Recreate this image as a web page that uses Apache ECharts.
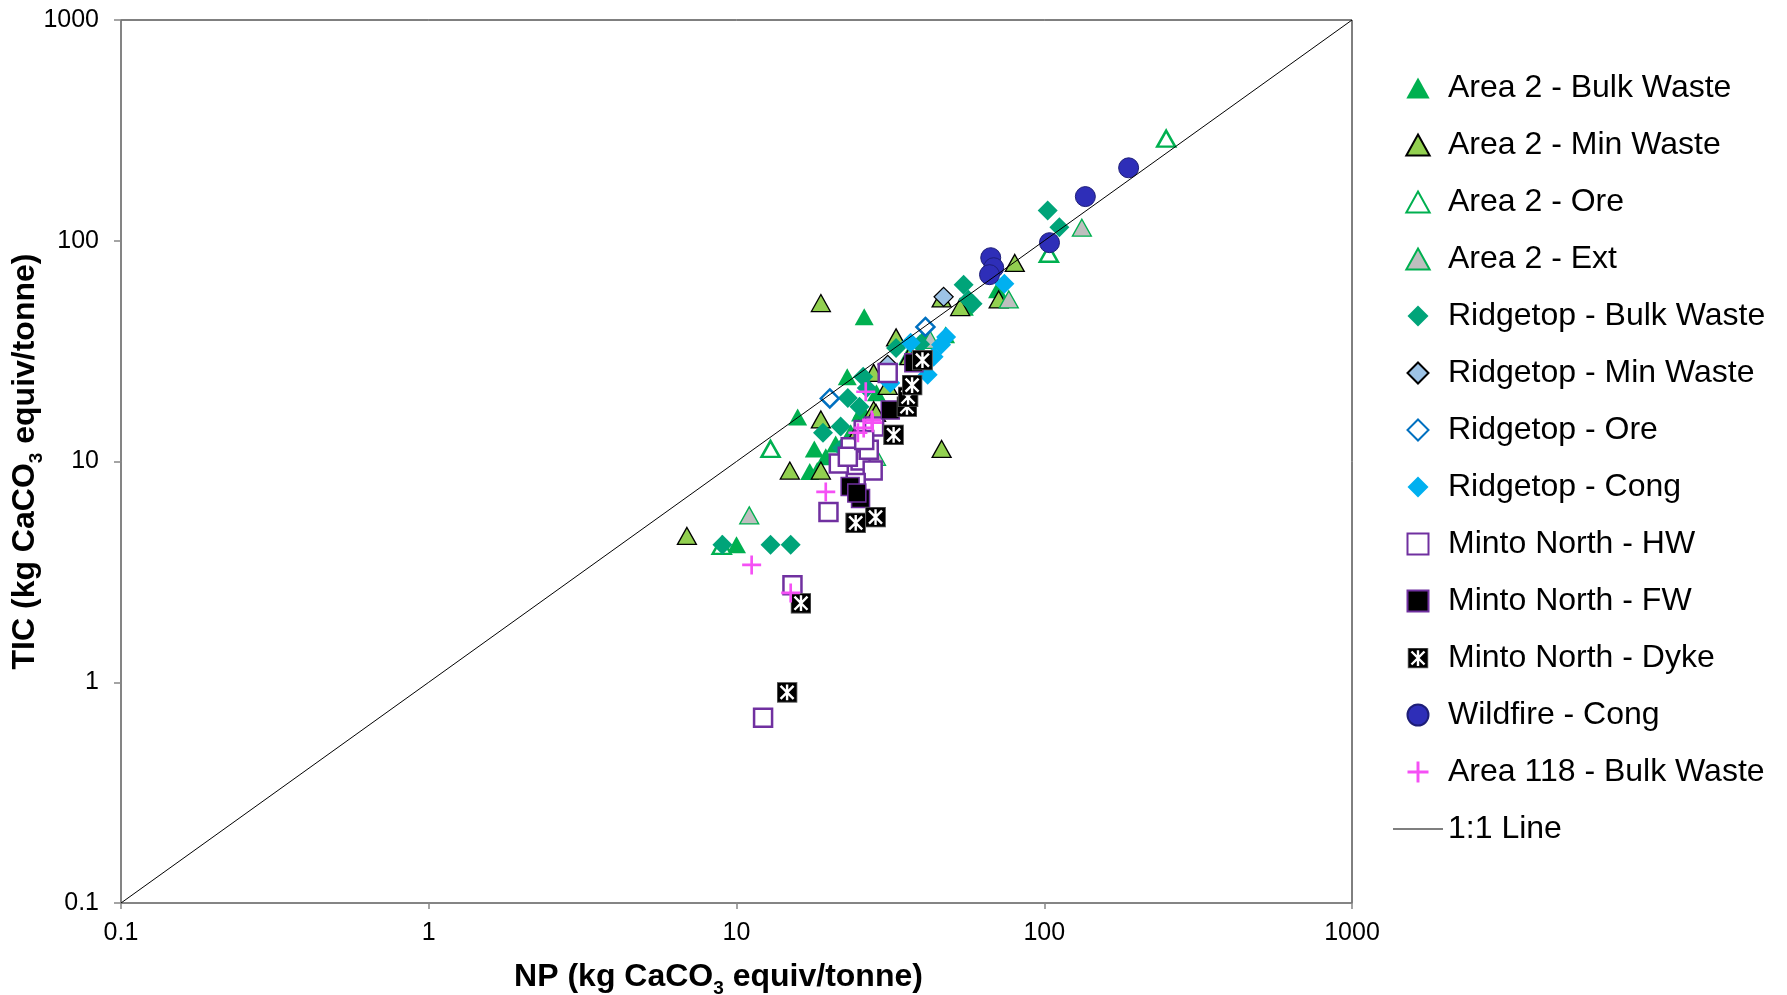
<!DOCTYPE html>
<html>
<head>
<meta charset="utf-8">
<script src="https://cdn.jsdelivr.net/npm/echarts@6/dist/echarts.min.js"></script>
<style>
  html, body { margin: 0; padding: 0; background: #fff; }
  #chart { width: 1787px; height: 995px; }
</style>
</head>
<body>
<div id="chart"></div>
<script>
// NP vs TIC, both in kg CaCO3 equiv/tonne, [NP, TIC]
const area2Bulk = [[26.0,45.3],[22.9,24.2],[15.8,15.9],[17.9,11.4],[18.3,9.1],[17.3,9.0],[10.0,4.2],[70.5,60.0],[47.8,37.5],[40.5,36.4],[25.3,16.6],[25.6,17.1],[21.0,12.0],[23.5,13.5],[28.5,20.5],[19.5,10.5],[36.0,30.0],[55.0,50.0]];
const area2Min = [[18.8,52.2],[6.9,4.6],[14.9,9.1],[18.8,9.1],[46.4,11.4],[33.0,36.5],[80.2,79.3],[71.1,54.2],[46.4,54.8],[18.8,15.5],[27.9,25.2],[27.9,17.1],[28.4,16.6],[53.3,50.1],[31.0,22.0],[25.0,14.0],[36.5,30.0]];
const area2Ore = [[249,290],[103.5,87.3],[12.9,11.4],[8.95,4.15]];
const area2Ext = [[132.5,114.6],[76.7,54.2],[11.0,5.7],[28.4,10.5],[42.6,35.6]];
const ridgeBulk = [[102.6,137],[112,115],[54.7,63.2],[56.7,54.1],[58.5,51.8],[9.0,4.2],[12.9,4.2],[15.0,4.2],[19.1,13.5],[21.8,14.4],[23.0,19.4],[25.1,17.7],[25.8,24.2],[33.0,32.7],[39.5,34.0],[22.0,11.5],[26.5,21.5]];
const ridgeMin = [[47.1,55.7],[31.0,27.4]];
const ridgeOre = [[20.1,19.3],[41.1,40.7]];
const ridgeCong = [[74.2,63.9],[48.0,36.6],[46.2,33.8],[43.7,29.8],[41.8,24.7],[36.8,34.5],[31.6,22.7],[26.3,13.9]];
const mintoHW = [[12.2,0.69],[15.2,2.75],[19.9,5.9],[31.0,25.2],[23.5,11.6],[21.5,9.8],[25.3,10.1],[26.9,11.3],[27.7,9.1],[25.9,13.9],[28.0,14.4],[24.4,8.0],[23.0,10.5],[26.0,12.5]];
const mintoFW = [[23.4,7.7],[25.3,6.8],[31.6,17.1],[37.7,28.0],[24.6,7.2]];
const mintoDyke = [[14.6,0.9],[16.2,2.28],[24.4,5.27],[28.3,5.6],[32.4,13.2],[35.8,17.7],[36.1,19.6],[37.2,22.2],[40.2,28.8]];
const wildfireCong = [[188,214],[136,158.5],[104,98],[67,83.8],[68.5,75.5],[66.4,70.2]];
const area118Bulk = [[11.2,3.4],[15.0,2.54],[19.5,7.28],[26.3,20.7],[27.7,15.0],[25.9,14.2],[27.5,15.4],[24.8,13.5]];
const oneToOne = [[0.1,0.1],[1000,1000]];

const seriesNames = [
  'Area 2 - Bulk Waste', 'Area 2 - Min Waste', 'Area 2 - Ore', 'Area 2 - Ext',
  'Ridgetop - Bulk Waste', 'Ridgetop - Min Waste', 'Ridgetop - Ore', 'Ridgetop - Cong',
  'Minto North - HW', 'Minto North - FW', 'Minto North - Dyke', 'Wildfire - Cong',
  'Area 118 - Bulk Waste', '1:1 Line'
];
const decadeLabels = ['0.1', '1', '10', '100', '1000'];

const FONT = '"Liberation Sans", Arial, sans-serif';

// marker shapes as paths so legend icons keep their proportions
const TRI = 'path://M10,0L20,18L0,18Z';
const DIAMOND = 'path://M10,0L20,10L10,20L0,10Z';
const SQUARE = 'path://M0,0H20V20H0Z';
const PLUS = 'path://M8.6,0h2.8v8.6h8.6v2.8h-8.6v8.6h-2.8v-8.6h-8.6v-2.8h8.6z';
const LINE_ICON = 'path://M0,0H50V1.2H0Z';
// black square with a white six-armed asterisk
const DYKE = 'image://data:image/svg+xml;utf8,' + encodeURIComponent(
  '<svg xmlns="http://www.w3.org/2000/svg" width="40" height="40" viewBox="0 0 20 20">' +
  '<rect x="0.5" y="0.5" width="19" height="19" fill="#000" stroke="#666" stroke-width="1"/>' +
  '<path d="M10 2.5V17.5M3.8 3.8L16.2 16.2M16.2 3.8L3.8 16.2" stroke="#fff" stroke-width="2.3" fill="none"/>' +
  '</svg>');

function scatter(name, data, symbol, size, itemStyle) {
  return {
    name, type: 'scatter', data, symbol, symbolSize: size,
    itemStyle: Object.assign({ opacity: 1 }, itemStyle),
    emphasis: { disabled: true }
  };
}

const decadeFormatter = v => decadeLabels[Math.round(Math.log10(v)) + 1] || '';

const axisNameStyle = {
  fontSize: 32, fontWeight: 'bold', color: '#000', fontFamily: FONT, lineHeight: 42,
  rich: { s: { fontSize: 19, fontWeight: 'bold', color: '#000', fontFamily: FONT, verticalAlign: 'bottom', lineHeight: 19 } }
};

const legendData = seriesNames.map(n => n === '1:1 Line' ? { name: n, icon: LINE_ICON } : { name: n });

const option = {
  animation: false,
  backgroundColor: '#fff',
  textStyle: { fontFamily: FONT },
  grid: { left: 121, top: 20, right: 435, bottom: 92, show: true, borderColor: '#000', borderWidth: 1, outerBoundsMode: 'none', containLabel: false },
  xAxis: {
    type: 'log', logBase: 10, min: 0.1, max: 1000,
    axisLine: { lineStyle: { color: '#868686', width: 1.5 } },
    axisTick: { show: true, length: 6, lineStyle: { color: '#868686', width: 1.5 } },
    minorTick: { show: false }, splitLine: { show: false },
    axisLabel: { fontSize: 25, color: '#000', fontFamily: FONT, margin: 18, formatter: decadeFormatter },
    name: 'NP (kg CaCO{s|3} equiv/tonne)', nameLocation: 'middle', nameGap: 53, nameMoveOverlap: false,
    nameTextStyle: Object.assign({ padding: [0, 36, 0, 0] }, axisNameStyle)
  },
  yAxis: {
    type: 'log', logBase: 10, min: 0.1, max: 1000,
    axisLine: { lineStyle: { color: '#868686', width: 1.5 } },
    axisTick: { show: true, length: 7, lineStyle: { color: '#868686', width: 1.5 } },
    minorTick: { show: false }, splitLine: { show: false },
    axisLabel: { fontSize: 25, color: '#000', fontFamily: FONT, margin: 22, formatter: decadeFormatter },
    name: 'TIC (kg CaCO{s|3} equiv/tonne)', nameLocation: 'middle', nameGap: 75, nameMoveOverlap: false,
    nameTextStyle: axisNameStyle
  },
  legend: {
    orient: 'vertical', left: 1393, top: 72, padding: 0,
    itemWidth: 50, itemHeight: 21, itemGap: 25,
    textStyle: { fontSize: 32, color: '#000', fontFamily: FONT, lineHeight: 32 },
    data: legendData,
    selectedMode: false
  },
  series: [
    { name: '1:1 Line', type: 'line', data: oneToOne, symbol: 'none', lineStyle: { color: '#000', width: 1 }, itemStyle: { color: '#000' }, emphasis: { disabled: true } },
    scatter(seriesNames[0], area2Bulk, TRI, [19, 17], { color: '#00B050' }),
    scatter(seriesNames[1], area2Min, TRI, [19, 17], { color: '#92D050', borderColor: '#000', borderWidth: 1.3 }),
    scatter(seriesNames[2], area2Ore, TRI, [18, 16], { color: '#fff', borderColor: '#00B050', borderWidth: 2.5 }),
    scatter(seriesNames[3], area2Ext, TRI, [19, 17], { color: '#BFBFBF', borderColor: '#00B050', borderWidth: 1.3 }),
    scatter(seriesNames[4], ridgeBulk, DIAMOND, [20, 20], { color: '#00A479' }),
    scatter(seriesNames[5], ridgeMin, DIAMOND, [19, 19], { color: '#9DC3E6', borderColor: '#000', borderWidth: 1.3 }),
    scatter(seriesNames[6], ridgeOre, DIAMOND, [18, 18], { color: '#fff', borderColor: '#0070C0', borderWidth: 2.5 }),
    scatter(seriesNames[7], ridgeCong, DIAMOND, [20, 20], { color: '#00B0F0' }),
    scatter(seriesNames[8], mintoHW, SQUARE, [18, 18], { color: '#fff', borderColor: '#7030A0', borderWidth: 2.5 }),
    scatter(seriesNames[9], mintoFW, SQUARE, [18, 18], { color: '#000', borderColor: '#7030A0', borderWidth: 1.5 }),
    scatter(seriesNames[10], mintoDyke, DYKE, [21, 21], { color: '#000' }),
    scatter(seriesNames[11], wildfireCong, 'circle', [20, 20], { color: '#2E2EB8', borderColor: '#1E1E78', borderWidth: 1 }),
    scatter(seriesNames[12], area118Bulk, PLUS, [19, 19], { color: '#F550F5' })
  ]
};

const chart = echarts.init(document.getElementById('chart'), null, { renderer: 'canvas' });
chart.setOption(option);
</script>
</body>
</html>
